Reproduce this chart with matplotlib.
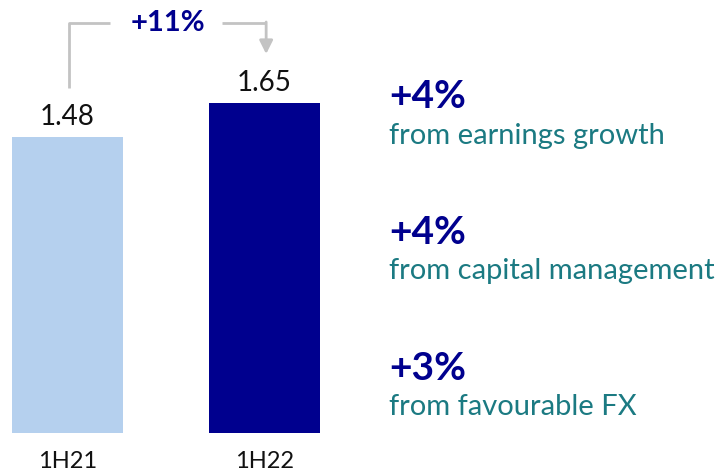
import matplotlib.pyplot as plt
from matplotlib.patches import FancyArrowPatch

plt.rcParams['font.family'] = ['Lato', 'DejaVu Sans']

# Data
periods = ["1H21", "1H22"]
values = [1.48, 1.65]
bar_colors = ["#b5d0ee", "#00008e"]
growth_label = "+11%"
drivers = ["+4%", "+4%", "+3%"]
driver_text = ["from earnings growth", "from capital management", "from favourable FX"]

NAVY = "#00008e"
TEAL = "#1b7a82"
GREY = "#c3c3c3"

W, H = 719, 472
fig = plt.figure(figsize=(W / 100, H / 100), dpi=100)

# bar panel: pixel 0..340 across, baseline at pixel row 433
ax = fig.add_axes([0, (H - 433) / H, 340 / W, 433 / H])
x = [0, 1]
ax.bar(x, values, width=0.56, color=bar_colors)
ax.set_xlim(-0.343, -0.343 + 340 / 197)
ax.set_ylim(0, 433 / 200)
ax.axis("off")

for xi, v, lab in zip(x, values, periods):
    ax.text(xi, v + 0.035, f"{v:.2f}", ha="center", va="bottom", fontsize=20, color="#111111")
    ax.text(xi, -0.145, lab, ha="center", va="center", fontsize=17,
            color="#111111", clip_on=False)

# bracket with arrow between the bars
top = 2.05
gap = 0.245
ax.plot([0.008, 0.008, 0.216], [values[0] + gap, top, top], color=GREY, lw=2,
        solid_capstyle="butt", clip_on=False)
ax.plot([0.786, 1.008], [top, top], color=GREY, lw=2, solid_capstyle="butt", clip_on=False)
arrow = FancyArrowPatch((1.008, top + 0.005), (1.008, values[1] + gap), arrowstyle="-|>",
                        mutation_scale=20, color=GREY, lw=2, shrinkA=0, shrinkB=0)
ax.add_patch(arrow)
ax.text(0.51, top, growth_label, ha="center", va="center", fontsize=21,
        fontweight="bold", color=NAVY, clip_on=False)

# growth drivers on the right
head_y = [97, 232, 368]
for pct, txt, y in zip(drivers, driver_text, head_y):
    fig.text(389 / W, 1 - y / H, pct, ha="left", va="center", fontsize=28,
             fontweight="bold", color=NAVY)
    fig.text(389 / W, 1 - (y + 39) / H, txt, ha="left", va="center", fontsize=21,
             color=TEAL)

fig.savefig("out.png", dpi=100)
